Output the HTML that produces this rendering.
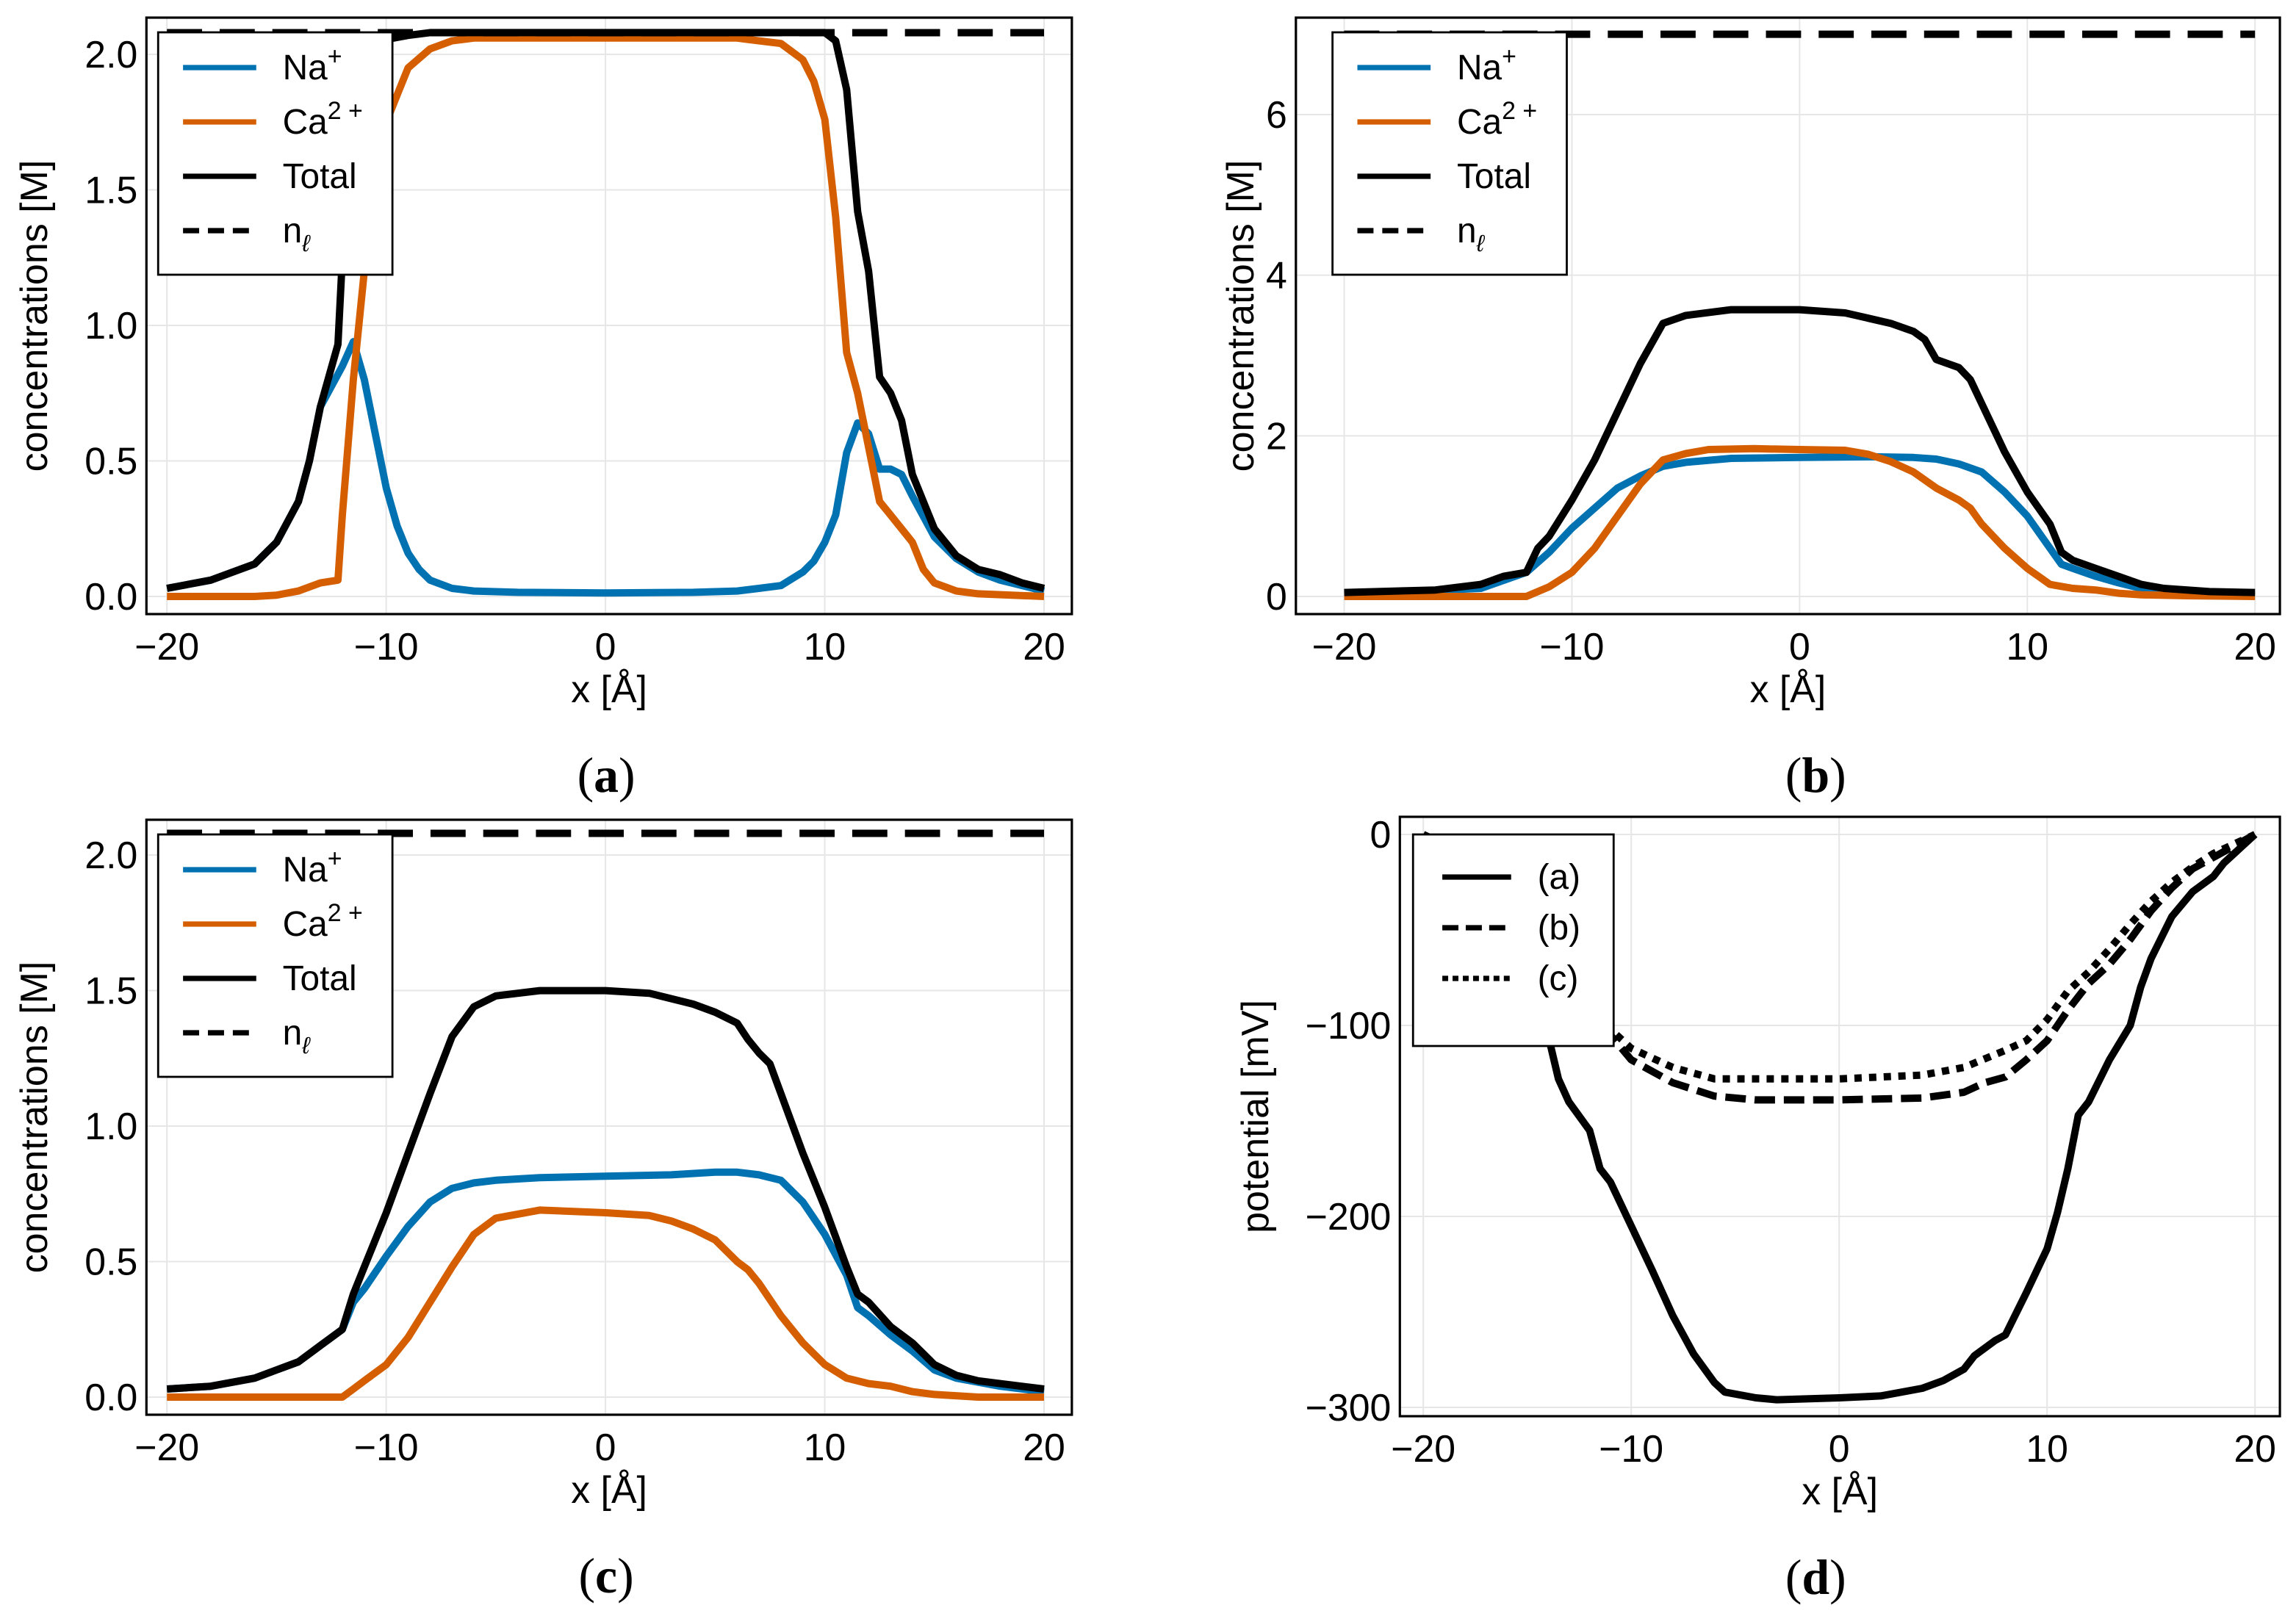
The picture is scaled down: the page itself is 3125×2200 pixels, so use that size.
<!DOCTYPE html>
<html><head><meta charset="utf-8"><style>
html,body{margin:0;padding:0;background:#fff}
svg{display:block}
text{font-family:"Liberation Sans Narrow","Liberation Sans",sans-serif;fill:#000}
</style></head><body>
<svg id="fig" width="3125" height="2200" viewBox="0 0 1568 1100" preserveAspectRatio="none" xmlns="http://www.w3.org/2000/svg"></svg>
<script>
// ---- data ----
const aNaX=[-20,-18,-17,-16,-15,-14,-13.5,-13,-12,-11.5,-11,-10.5,-10,-9.5,-9,-8.5,-8,-7,-6,-4,0,4,6,7,8,9,9.5,10,10.5,11,11.5,12,12.5,13,13.5,14,15,16,17,18,19,20];
const aNaY=[0.03,0.06,0.09,0.12,0.2,0.35,0.5,0.7,0.85,0.94,0.8,0.6,0.4,0.26,0.16,0.1,0.06,0.03,0.02,0.015,0.013,0.015,0.02,0.03,0.04,0.09,0.13,0.2,0.3,0.53,0.64,0.6,0.47,0.47,0.45,0.37,0.22,0.14,0.09,0.06,0.04,0.02];
const aCaX=[-20,-16,-15,-14,-13,-12.2,-12,-11.5,-11,-10.5,-10,-9.5,-9,-8,-7,-6,6,7,8,9,9.5,10,10.5,11,11.5,12,12.5,13,13.5,14,14.5,15,16,17,20];
const aCaY=[0,0,0.005,0.02,0.05,0.06,0.3,0.8,1.2,1.55,1.75,1.85,1.95,2.02,2.05,2.06,2.06,2.05,2.04,1.98,1.9,1.76,1.4,0.9,0.75,0.55,0.35,0.3,0.25,0.2,0.1,0.05,0.02,0.01,0];
const aTotX=[-20,-18,-17,-16,-15,-14,-13.5,-13,-12.2,-12,-11.8,-11,-9,-8,9,10,10.5,11,11.5,12,12.5,13,13.5,14,15,16,17,18,19,20];
const aTotY=[0.03,0.06,0.09,0.12,0.2,0.35,0.5,0.7,0.93,1.25,2.0,2.04,2.07,2.08,2.08,2.08,2.05,1.87,1.42,1.2,0.81,0.75,0.65,0.45,0.25,0.15,0.1,0.08,0.05,0.03];
const aNl=2.08;

const bTotX=[-20,-16,-14,-13,-12,-11.5,-11,-10,-9,-8,-7,-6,-5,-3,0,2,4,5,5.5,6,7,7.5,8,9,10,11,11.5,12,13,14,15,16,18,20];
const bTotY=[0.05,0.08,0.15,0.25,0.3,0.6,0.75,1.2,1.7,2.3,2.9,3.4,3.5,3.57,3.57,3.53,3.4,3.3,3.2,2.95,2.85,2.7,2.4,1.8,1.3,0.9,0.55,0.45,0.35,0.25,0.15,0.1,0.06,0.05];
const bNaX=[-20,-14,-12,-11,-10,-9,-8,-7,-6,-5,-3,0,3,5,6,7,8,9,10,11,11.5,12,13,14,15,16,18,20];
const bNaY=[0.03,0.1,0.3,0.55,0.85,1.1,1.35,1.5,1.62,1.67,1.72,1.73,1.74,1.73,1.71,1.65,1.55,1.3,1.0,0.6,0.4,0.35,0.25,0.17,0.1,0.06,0.03,0.02];
const bCaX=[-20,-12,-11,-10,-9,-8,-7,-6,-5,-4,-2,0,2,3,4,5,6,7,7.5,8,9,10,11,12,13,14,15,17,20];
const bCaY=[0,0,0.12,0.3,0.6,1.0,1.4,1.7,1.78,1.83,1.84,1.83,1.82,1.77,1.68,1.55,1.35,1.2,1.1,0.9,0.6,0.35,0.15,0.1,0.08,0.04,0.02,0.01,0];
const bNl=7;

const cTotX=[-20,-18,-16,-15,-14,-13,-12,-11.5,-11,-10,-9,-8,-7,-6,-5,-3,0,2,4,5,6,6.5,7,7.5,8,9,10,11,11.5,12,13,14,15,16,17,18,20];
const cTotY=[0.03,0.04,0.07,0.1,0.13,0.19,0.25,0.38,0.48,0.68,0.9,1.12,1.33,1.44,1.48,1.5,1.5,1.49,1.45,1.42,1.38,1.32,1.27,1.23,1.12,0.9,0.7,0.48,0.38,0.35,0.26,0.2,0.12,0.08,0.06,0.05,0.03];
const cNaX=[-20,-18,-16,-15,-14,-13,-12,-11.5,-11,-10,-9,-8,-7,-6,-5,-3,0,3,5,6,7,8,9,10,11,11.5,12,13,14,15,16,18,20];
const cNaY=[0.03,0.04,0.07,0.1,0.13,0.19,0.25,0.35,0.4,0.52,0.63,0.72,0.77,0.79,0.8,0.81,0.815,0.82,0.83,0.83,0.82,0.8,0.72,0.6,0.45,0.33,0.3,0.23,0.17,0.1,0.07,0.04,0.02];
const cCaX=[-20,-12,-11.5,-11,-10,-9,-8,-7,-6,-5,-3,0,2,3,4,5,6,6.5,7,8,9,10,11,12,13,14,15,17,20];
const cCaY=[0,0,0.03,0.06,0.12,0.22,0.35,0.48,0.6,0.66,0.69,0.68,0.67,0.65,0.62,0.58,0.5,0.47,0.42,0.3,0.2,0.12,0.07,0.05,0.04,0.02,0.01,0,0];
const cNl=2.08;

const dAX=[-20,-18,-16,-15,-14.5,-14,-13.5,-13,-12,-11.5,-11,-10,-9,-8,-7,-6,-5.5,-4,-3,0,2,4,5,6,6.5,7.5,8,9,10,10.5,11,11.5,12,13,14,14.5,15,16,17,18,18.5,19,20];
const dAY=[0,-10,-35,-60,-90,-105,-128,-140,-155,-175,-182,-205,-228,-252,-272,-287,-292,-295,-296,-295,-294,-290,-286,-280,-273,-265,-262,-240,-217,-198,-175,-147,-140,-118,-100,-80,-65,-43,-30,-22,-15,-10,0];
const dBX=[-20,-16,-12,-11,-10,-8,-6,-4,0,4,6,7,8,9,10,11,12,13,14,15,16,17,18,19,20];
const dBY=[0,-40,-85,-105,-118,-130,-137,-139,-139,-138,-135,-130,-127,-118,-108,-92,-78,-68,-55,-40,-28,-18,-12,-6,0];
const dCX=[-20,-16,-12,-11,-10,-8,-6,-4,0,4,6,8,9,10,11,12,13,14,15,16,17,18,19,20];
const dCY=[0,-40,-90,-102,-112,-122,-128,-128,-128,-126,-122,-113,-108,-97,-82,-72,-60,-47,-35,-25,-17,-10,-5,0];

const xTicks=[-20,-10,0,10,20];
const tickA=[0,0.5,1.0,1.5,2.0], tickALbl=["0.0","0.5","1.0","1.5","2.0"];
const tickB=[0,2,4,6], tickBLbl=["0","2","4","6"];
const tickD=[0,-100,-200,-300], tickDLbl=["0","−100","−200","−300"];
const xTickLbl=["−20","−10","0","10","20"];

// ---- drawing ----
const NS="http://www.w3.org/2000/svg";
const svg=document.getElementById('fig');
function mk(tag,attrs,parent){const e=document.createElementNS(NS,tag);for(const k in attrs)e.setAttribute(k,attrs[k]);(parent||svg).appendChild(e);return e;}
const BLUE="#0072B2",ORANGE="#D55E00";

function panel(P){
  const g=mk('g',{});
  
  
  const sx=v=>P.x0px+(v-(-20))/40*(P.x1px-P.x0px);
  const sy=v=>P.y0px+(v-P.y0)/(P.y1-P.y0)*(P.y1px-P.y0px);
  xTicks.forEach(t=>{const l=mk('line',{x1:sx(t),x2:sx(t),y1:P.fy0,y2:P.fy1,stroke:'#e6e6e6','stroke-width':1},g);
    });
  P.yt.forEach(t=>{const l=mk('line',{x1:P.fx0,x2:P.fx1,y1:sy(t),y2:sy(t),stroke:'#e6e6e6','stroke-width':1},g);
    });
  const cp=mk('clipPath',{id:'clip-'+P.id},g);mk('rect',{x:P.fx0,y:P.fy0,width:P.fx1-P.fx0,height:P.fy1-P.fy0},cp);
  const cg=mk('g',{'clip-path':`url(#clip-${P.id})`},g);
  P.series.forEach(s=>{
    let d;
    if(s.hline!==undefined){d=`M${sx(-20)},${sy(s.hline)}L${sx(20)},${sy(s.hline)}`;}
    else d=s.x.map((v,i)=>(i?'L':'M')+sx(v).toFixed(1)+','+sy(s.y[i]).toFixed(1)).join('');
    const p=mk('path',{d,fill:'none',stroke:s.c,'stroke-width':s.w||5,'stroke-linejoin':'round','stroke-dasharray':s.dash||'none'},cg);
    
    
  });
  const fr=mk('rect',{x:P.fx0,y:P.fy0,width:P.fx1-P.fx0,height:P.fy1-P.fy0,fill:'none',stroke:'#000','stroke-width':1.6},g);
  
  xTicks.forEach((t,i)=>{const e=mk('text',{x:sx(t),y:P.fy1+31,'text-anchor':'middle','font-size':26},g);e.textContent=xTickLbl[i];
    });
  P.yt.forEach((t,i)=>{const e=mk('text',{x:P.fx0-6,y:sy(t)+9,'text-anchor':'end','font-size':26},g);e.textContent=P.ytl[i];
    });
  const xl=mk('text',{x:(P.fx0+P.fx1)/2,y:P.fy1+60,'text-anchor':'middle','font-size':26},g);xl.textContent='x [Å]';
  
  const yc=(P.fy0+P.fy1)/2;
  const yl=mk('text',{x:P.ylx,y:yc,'text-anchor':'middle','font-size':26,transform:`rotate(-90 ${P.ylx} ${yc})`},g);yl.textContent=P.ylab;
  
  const cap=mk('text',{x:P.capx,y:P.fy1+121,'text-anchor':'middle','font-size':34,style:'font-family:"Liberation Serif",serif'},g);
  cap.innerHTML='<tspan>(</tspan><tspan font-weight="bold">'+P.cap+'</tspan><tspan>)</tspan>';
  
  const L=P.leg;
  const lg=mk('g',{},g);
  
  mk('rect',{x:L.x,y:L.y,width:L.w,height:L.h,fill:'#fff',stroke:'#000','stroke-width':1.4},lg);
  L.items.forEach((it,i)=>{
    const yy=L.y0+i*L.dy;
    const ln=mk('line',{x1:L.x+L.lx0,x2:L.x+L.lx1,y1:yy,y2:yy,stroke:it.c,'stroke-width':3.6,'stroke-dasharray':it.dash||'none'},lg);
    
    const tx=mk('text',{x:L.x+L.tx,y:yy+8,'font-size':24},lg);tx.innerHTML=it.t;
    
  });
}
const concLeg=(x,y)=>({x,y,w:160,h:165,y0:y+24,dy:37,lx0:17,lx1:67,tx:85,items:[
  {c:BLUE,t:'Na<tspan dy="-10" font-size="17">+</tspan>'},
  {c:ORANGE,t:'Ca<tspan dy="-10" font-size="17">2 +</tspan>'},
  {c:'#000',t:'Total'},
  {c:'#000',dash:'11,6',t:'n<tspan dy="6" font-size="16" font-style="italic">ℓ</tspan>'}]});

panel({id:'a',name:'panel-a',fx0:100,fx1:732,fy0:12,fy1:418,x0px:114,x1px:713,y0:0,y1:2,y0px:406,y1px:37,
  yt:tickA,ytl:tickALbl,ylab:'concentrations [M]',ylx:32,cap:'a',capx:414,
  series:[{x:aNaX,y:aNaY,c:BLUE,n:'na-line'},{x:aCaX,y:aCaY,c:ORANGE,n:'ca-line'},{x:aTotX,y:aTotY,c:'#000',n:'total-line'},{hline:aNl,c:'#000',dash:'24,12',w:5,n:'n-ell-line'}],
  leg:concLeg(108,22)});
panel({id:'b',name:'panel-b',fx0:885,fx1:1557,fy0:12,fy1:418,x0px:918,x1px:1540,y0:0,y1:6,y0px:406,y1px:78,
  yt:tickB,ytl:tickBLbl,ylab:'concentrations [M]',ylx:856,cap:'b',capx:1240,
  series:[{x:bNaX,y:bNaY,c:BLUE,n:'na-line'},{x:bCaX,y:bCaY,c:ORANGE,n:'ca-line'},{x:bTotX,y:bTotY,c:'#000',n:'total-line'},{hline:bNl,c:'#000',dash:'24,12',w:5,n:'n-ell-line'}],
  leg:concLeg(910,22)});
panel({id:'c',name:'panel-c',fx0:100,fx1:732,fy0:558,fy1:963,x0px:114,x1px:713,y0:0,y1:2,y0px:951,y1px:582,
  yt:tickA,ytl:tickALbl,ylab:'concentrations [M]',ylx:32,cap:'c',capx:414,
  series:[{x:cNaX,y:cNaY,c:BLUE,n:'na-line'},{x:cCaX,y:cCaY,c:ORANGE,n:'ca-line'},{x:cTotX,y:cTotY,c:'#000',n:'total-line'},{hline:cNl,c:'#000',dash:'24,12',w:5,n:'n-ell-line'}],
  leg:concLeg(108,568)});
panel({id:'d',name:'panel-d',fx0:956,fx1:1557,fy0:556,fy1:964,x0px:972,x1px:1540,y0:0,y1:-300,y0px:568,y1px:958,
  yt:tickD,ytl:tickDLbl,ylab:'potential [mV]',ylx:866,cap:'d',capx:1240,
  series:[{x:dAX,y:dAY,c:'#000',n:'potential-a-line'},{x:dBX,y:dBY,c:'#000',dash:'14,6',n:'potential-b-line'},{x:dCX,y:dCY,c:'#000',dash:'5,5',n:'potential-c-line'}],
  leg:{x:965,y:568,w:137,h:144,y0:597,dy:34.5,lx0:20,lx1:67,tx:85,items:[
    {c:'#000',t:'(a)'},{c:'#000',dash:'11,5',t:'(b)'},{c:'#000',dash:'4,3',t:'(c)'}]}});
</script>
</body></html>
